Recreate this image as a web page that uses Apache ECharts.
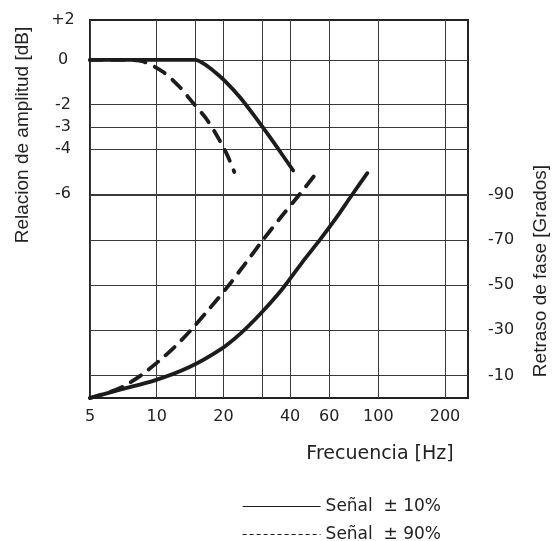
<!DOCTYPE html>
<html>
<head>
<meta charset="utf-8">
<script src="https://cdn.jsdelivr.net/npm/echarts@6/dist/echarts.min.js"></script>
<style>
  html, body { margin: 0; padding: 0; background: #fff; }
  #chart { width: 558px; height: 541px; }
</style>
</head>
<body>
<div id="chart"></div>
<script>
// frecuencias (Hz) y valores
var ampSolidHz = [5, 10, 14.9, 16.5, 18.3, 20.4, 23.8, 27.8, 32.5, 37.2, 41.3];
var ampSolidDb = [0, 0, 0, -0.2, -0.54, -0.96, -1.68, -2.55, -3.47, -4.3, -4.95];
var ampDashHz = [5, 7.6, 8.7, 10.7, 12.7, 14.6, 16.9, 19.3, 20.8, 22.4];
var ampDashDb = [0, 0, -0.07, -0.54, -1.21, -1.93, -2.69, -3.63, -4.25, -5.02];
var phaseSolidHz = [5, 6.9, 9.8, 13.9, 19.5, 24.0, 29.6, 37.2, 45.8, 54.7, 65.3, 74.7, 89.2];
var phaseSolidDeg = [0, -3.8, -7.8, -13.5, -21.7, -28.8, -37.7, -48.8, -60.7, -70.3, -80.5, -88.9, -99.7];
var phaseDashHz = [5, 6.16, 7.19, 8.59, 10.35, 12.1, 14.15, 17.4, 21.0, 25.1, 29.9, 36.1, 44.4, 53.0];
var phaseDashDeg = [0, -2.7, -5.5, -10.4, -16.8, -22.8, -29.7, -39.9, -49.6, -59.6, -69.6, -79.8, -90.6, -100.2];

var xLabelValues = [5, 10, 20, 40, 60, 100, 200];
var xGridValues = [5, 10, 15, 20, 30, 40, 60, 100, 200];
var ampTickValues = [1.79, 0, -2, -3, -4, -6];
var ampTickLabels = ['+2', '0', '-2', '-3', '-4', '-6'];
var ampGridValues = [0, -2, -3, -4, -6];
var phaseTickValues = [-10, -30, -50, -70, -90];

var names = ['Señal  ± 10%', 'Señal  ± 90%'];

function zip(xs, ys) {
  return xs.map(function (x, i) { return [x, ys[i]]; });
}

var myChart = echarts.init(document.getElementById('chart'));
var ink = '#1c1c1c';
var gridCol = '#3a3a3a';
var labelFont = { color: '#222', fontFamily: 'DejaVu Sans', fontSize: 16 };

var solid = { color: ink, width: 3.8, type: 'solid', cap: 'round' };
var dashed = { color: ink, width: 3.8, type: [12, 10], cap: 'round' };

function legendRow(top, name, lineType) {
  return {
    orient: 'vertical',
    left: 237, top: top,
    itemWidth: 78, itemHeight: 12,
    textStyle: { color: '#222', fontFamily: 'DejaVu Sans', fontSize: 17 },
    itemStyle: { opacity: 0 },
    lineStyle: { width: 1.2, type: lineType, color: ink, cap: 'butt' },
    data: [{ name: name }]
  };
}

var option = {
  backgroundColor: '#fff',
  animation: false,
  grid: {
    left: 90, right: 90, top: 20, bottom: 143,
    show: true, borderColor: '#222', borderWidth: 2, backgroundColor: 'transparent'
  },
  legend: [
    legendRow(493, names[0], 'solid'),
    legendRow(521, names[1], [4, 3])
  ],
  xAxis: {
    type: 'log', logBase: 10, min: 5, max: 254,
    axisLine: { show: false },
    axisTick: { show: false, customValues: xGridValues },
    axisLabel: Object.assign({ customValues: xLabelValues, margin: 11 }, labelFont),
    splitLine: { show: true, lineStyle: { color: gridCol, width: 1 } }
  },
  yAxis: [
    {
      type: 'value', min: -15.14, max: 1.79,
      axisLine: { show: false },
      axisTick: { show: false, customValues: ampGridValues },
      axisLabel: Object.assign({
        customValues: ampTickValues, align: 'center', margin: 27,
        formatter: function (v) {
          for (var i = 0; i < ampTickValues.length; i++) {
            if (Math.abs(ampTickValues[i] - v) < 0.01) return ampTickLabels[i];
          }
          return '';
        }
      }, labelFont),
      splitLine: { show: true, lineStyle: { color: gridCol, width: 1 } }
    },
    {
      type: 'value', min: -167.6, max: 0, inverse: true, position: 'right',
      axisLine: { show: false },
      axisTick: { show: false, customValues: phaseTickValues },
      axisLabel: Object.assign({ customValues: phaseTickValues, margin: 20 }, labelFont),
      splitLine: { show: true, lineStyle: { color: gridCol, width: 1 } }
    }
  ],
  series: [
    { name: names[0], type: 'line', yAxisIndex: 0, data: zip(ampSolidHz, ampSolidDb),
      symbol: 'none', smooth: 0.3, lineStyle: solid, itemStyle: { color: ink } },
    { name: names[1], type: 'line', yAxisIndex: 0, data: zip(ampDashHz, ampDashDb),
      symbol: 'none', smooth: 0.3, lineStyle: dashed, itemStyle: { color: ink } },
    { name: names[0], type: 'line', yAxisIndex: 1, data: zip(phaseSolidHz, phaseSolidDeg),
      symbol: 'none', smooth: 0.3, lineStyle: solid, itemStyle: { color: ink } },
    { name: names[1], type: 'line', yAxisIndex: 1, data: zip(phaseDashHz, phaseDashDeg),
      symbol: 'none', smooth: 0.3, lineStyle: dashed, itemStyle: { color: ink } }
  ],
  graphic: [
    { type: 'text', x: 23, y: 135, rotation: Math.PI / 2,
      style: { text: 'Relacion de amplitud [dB]', fill: '#222', font: '19px "Liberation Sans"',
               align: 'center', verticalAlign: 'middle' } },
    { type: 'text', x: 541, y: 271, rotation: Math.PI / 2,
      style: { text: 'Retraso de fase [Grados]', fill: '#222', font: '19px "Liberation Sans"',
               align: 'center', verticalAlign: 'middle' } },
    { type: 'text', x: 380, y: 454,
      style: { text: 'Frecuencia [Hz]', fill: '#222', font: '19px "DejaVu Sans"',
               align: 'center', verticalAlign: 'middle' } }
  ]
};

myChart.setOption(option);
</script>
</body>
</html>
